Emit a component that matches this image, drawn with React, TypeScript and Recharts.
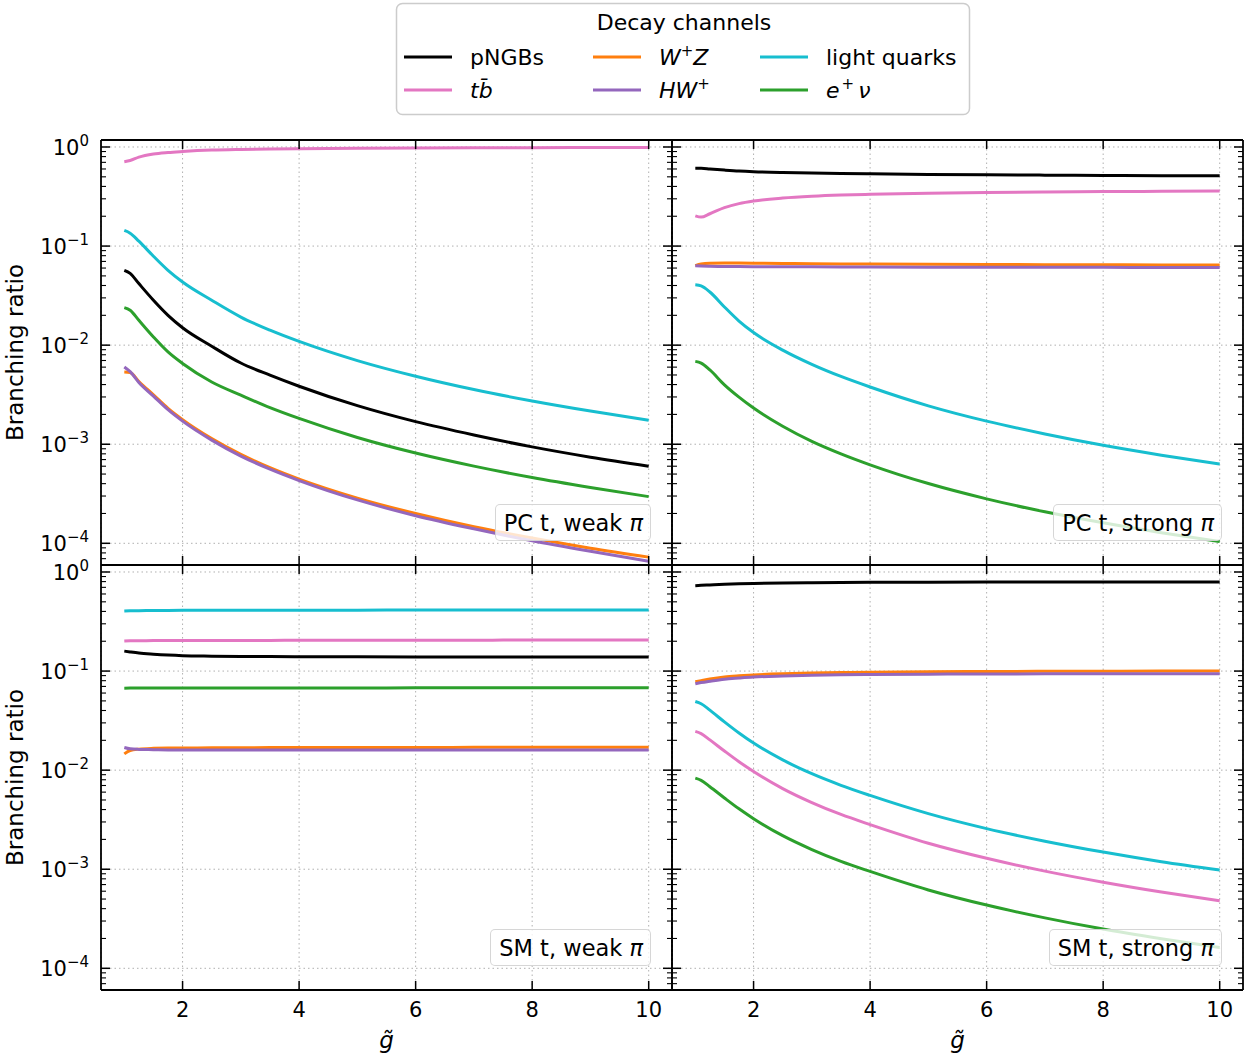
import React from "react"
import { LineChart, Line, XAxis, YAxis, CartesianGrid, ReferenceLine } from "recharts"

// coupling values shared by every panel
const G = [1, 1.1, 1.25, 1.5, 1.75, 2, 2.5, 3, 3.5, 4, 5, 6, 7, 8, 9, 10]

// PC t, weak pi
const pcWeakPngb = [0.0569, 0.053, 0.0418, 0.0284, 0.02, 0.015, 0.00975, 0.0066, 0.00498, 0.00385, 0.00245, 0.00169, 0.00124, 0.00094, 0.00074, 0.0006]
const pcWeakTb = [0.71, 0.73, 0.79, 0.85, 0.88, 0.9, 0.93, 0.945, 0.955, 0.962, 0.972, 0.978, 0.982, 0.985, 0.987, 0.989]
const pcWeakWz = [0.00537, 0.0053, 0.0043, 0.00315, 0.0023, 0.00177, 0.00114, 0.00079, 0.00058, 0.000445, 0.000286, 0.0002, 0.000147, 0.000113, 0.0000893, 0.0000725]
const pcWeakHw = [0.00603, 0.0054, 0.0042, 0.00306, 0.00223, 0.00171, 0.0011, 0.00076, 0.00056, 0.00043, 0.000274, 0.00019, 0.00014, 0.000106, 0.000083, 0.000066]
const pcWeakLq = [0.1439, 0.135, 0.112, 0.079, 0.0569, 0.0434, 0.0284, 0.0192, 0.01416, 0.0109, 0.00698, 0.00485, 0.00356, 0.00273, 0.00216, 0.00175]
const pcWeakEnu = [0.0239, 0.0225, 0.0178, 0.0121, 0.00854, 0.00653, 0.00425, 0.00313, 0.00234, 0.00182, 0.00117, 0.000815, 0.000601, 0.000461, 0.000366, 0.000296]

// PC t, strong pi
const pcStrongPngb = [0.61, 0.61, 0.6, 0.585, 0.572, 0.563, 0.552, 0.545, 0.54, 0.536, 0.529, 0.524, 0.52, 0.517, 0.514, 0.512]
const pcStrongTb = [0.202, 0.196, 0.212, 0.244, 0.268, 0.285, 0.305, 0.318, 0.327, 0.333, 0.342, 0.348, 0.352, 0.355, 0.357, 0.359]
const pcStrongWz = [0.0635, 0.066, 0.0672, 0.0675, 0.0674, 0.0672, 0.0668, 0.0664, 0.0661, 0.0658, 0.0654, 0.0651, 0.0649, 0.0647, 0.0645, 0.0644]
const pcStrongHw = [0.0632, 0.0628, 0.0625, 0.0623, 0.0621, 0.062, 0.0618, 0.0617, 0.0616, 0.0615, 0.0613, 0.0612, 0.0611, 0.061, 0.0609, 0.0608]
const pcStrongLq = [0.0406, 0.0396, 0.0344, 0.0243, 0.0175, 0.0134, 0.00891, 0.0064, 0.00483, 0.00378, 0.00244, 0.00171, 0.00127, 0.000975, 0.000775, 0.00063]
const pcStrongEnu = [0.00686, 0.0066, 0.00562, 0.00398, 0.00299, 0.00232, 0.00152, 0.00107, 0.0008, 0.00062, 0.000401, 0.000281, 0.000208, 0.000161, 0.000128, 0.000104]

// SM t, weak pi
const smWeakPngb = [0.159, 0.156, 0.152, 0.148, 0.145, 0.143, 0.1415, 0.1405, 0.14, 0.1397, 0.1393, 0.139, 0.1388, 0.1386, 0.1384, 0.1383]
const smWeakTb = [0.201, 0.202, 0.202, 0.203, 0.203, 0.203, 0.204, 0.204, 0.204, 0.205, 0.205, 0.205, 0.205, 0.206, 0.206, 0.206]
const smWeakWz = [0.0146, 0.0158, 0.0163, 0.0166, 0.0167, 0.0167, 0.0168, 0.0168, 0.0169, 0.0169, 0.0169, 0.0169, 0.017, 0.017, 0.017, 0.017]
const smWeakHw = [0.0169, 0.0164, 0.0162, 0.0161, 0.016, 0.016, 0.016, 0.016, 0.016, 0.016, 0.016, 0.016, 0.016, 0.016, 0.016, 0.016]
const smWeakLq = [0.404, 0.406, 0.407, 0.408, 0.409, 0.41, 0.41, 0.411, 0.411, 0.412, 0.412, 0.413, 0.413, 0.413, 0.414, 0.414]
const smWeakEnu = [0.0672, 0.0673, 0.0673, 0.0674, 0.0674, 0.0675, 0.0675, 0.0675, 0.0676, 0.0676, 0.0676, 0.0677, 0.0677, 0.0677, 0.0678, 0.0678]

// SM t, strong pi
const smStrongPngb = [0.728, 0.733, 0.74, 0.752, 0.76, 0.766, 0.774, 0.779, 0.783, 0.786, 0.789, 0.791, 0.792, 0.793, 0.793, 0.794]
const smStrongTb = [0.0246, 0.0234, 0.0202, 0.0156, 0.01216, 0.0097, 0.00652, 0.00471, 0.00357, 0.00282, 0.00183, 0.00129, 0.000957, 0.00074, 0.000589, 0.00048]
const smStrongWz = [0.078, 0.08, 0.083, 0.087, 0.0895, 0.0915, 0.094, 0.0955, 0.0965, 0.0975, 0.0985, 0.099, 0.0995, 0.0997, 0.0999, 0.1]
const smStrongHw = [0.0745, 0.0765, 0.079, 0.0828, 0.085, 0.087, 0.0893, 0.091, 0.092, 0.0925, 0.093, 0.0935, 0.0937, 0.0939, 0.094, 0.094]
const smStrongLq = [0.0493, 0.0468, 0.0403, 0.0307, 0.0237, 0.01875, 0.01268, 0.0092, 0.00703, 0.00556, 0.00364, 0.00257, 0.00192, 0.00149, 0.00119, 0.00098]
const smStrongEnu = [0.0083, 0.00789, 0.00681, 0.00524, 0.00407, 0.00324, 0.00218, 0.00158, 0.0012, 0.00095, 0.000618, 0.000435, 0.000323, 0.000249, 0.000199, 0.000162]

const SERIES = [
  { key: "pngb", color: "#000000" },
  { key: "tb", color: "#e377c2" },
  { key: "wz", color: "#ff7f0e" },
  { key: "hw", color: "#9467bd" },
  { key: "lq", color: "#17becf" },
  { key: "enu", color: "#2ca02c" },
]

const FONT = "DejaVu Sans"
const X_DOMAIN = [0.6, 10.4]
const X_TICKS = [2, 4, 6, 8, 10]
const Y_MIN = Math.pow(10, -4.219)
const Y_MAX = Math.pow(10, 0.0706)
const Y_MAJOR = [1e-4, 1e-3, 1e-2, 1e-1, 1]
const Y_TICKS: number[] = []
for (let e = -5; e <= 0; e++) {
  for (let m = 1; m <= 9; m++) {
    const v = m * Math.pow(10, e)
    if (v >= Y_MIN && v <= Y_MAX) Y_TICKS.push(v)
  }
}

const PLOT_W = 571
const PLOT_H = 425
const LINE_W = 3

function makeRows(cols: number[][]) {
  return G.map((g, i) => {
    const row: Record<string, number> = { g }
    SERIES.forEach((s, j) => {
      row[s.key] = cols[j][i]
    })
    return row
  })
}

const isMajor = (v: number) => Math.abs(Math.log10(v) - Math.round(Math.log10(v))) < 1e-6

function LeftTick(props: any) {
  const { x, y, payload, labels } = props
  const v = payload.value
  const major = isMajor(v)
  const exp = Math.round(Math.log10(v))
  return (
    <g>
      <line x1={x} x2={x + (major ? 9 : 5)} y1={y} y2={y} stroke="#000" strokeWidth={major ? 1.5 : 1.1} />
      {major && labels && (
        <text x={x - 12} y={y + 8} textAnchor="end" fontSize={21} fontFamily={FONT} fill="#000">
          10
          <tspan fontSize={15} dy={-9}>{exp === 0 ? "0" : "\u2212" + -exp}</tspan>
        </text>
      )}
    </g>
  )
}

function RightTick(props: any) {
  const { x, y, payload } = props
  const major = isMajor(payload.value)
  return <line x1={x} x2={x - (major ? 9 : 5)} y1={y} y2={y} stroke="#000" strokeWidth={major ? 1.5 : 1.1} />
}

function BottomTick(props: any) {
  const { x, y, payload, labels } = props
  return (
    <g>
      <line x1={x} x2={x} y1={y} y2={y - 9} stroke="#000" strokeWidth={1.5} />
      {labels && (
        <text x={x} y={y + 27} textAnchor="middle" fontSize={21} fontFamily={FONT} fill="#000">
          {payload.value}
        </text>
      )}
    </g>
  )
}

function TopTick(props: any) {
  const { x, y } = props
  return <line x1={x} x2={x} y1={y} y2={y + 9} stroke="#000" strokeWidth={1.5} />
}

function Panel({
  rows,
  left,
  top,
  firstCol,
  bottomRow,
  note,
}: {
  rows: Record<string, number>[]
  left: number
  top: number
  firstCol: boolean
  bottomRow: boolean
  note: string
}) {
  const yLeftW = firstCol ? 60 : 10
  const marginLeft = firstCol ? 41 : 0
  const yRightW = firstCol ? 6 : 4
  const xBottomH = bottomRow ? 70 : 10
  const chartW = marginLeft + yLeftW + PLOT_W + yRightW
  const chartH = 10 + PLOT_H + xBottomH
  const plotLeft = marginLeft + yLeftW
  const plotTop = 10
  const plotBottom = plotTop + PLOT_H
  const axisLine = { stroke: "#000", strokeWidth: 1.8 }

  return (
    <div style={{ position: "absolute", left, top, width: chartW, height: chartH }}>
      <LineChart width={chartW} height={chartH} data={rows} margin={{ top: 0, right: 0, bottom: 0, left: marginLeft }}>
        <CartesianGrid horizontal={false} stroke="#b0b0b0" strokeDasharray="1.5 3" strokeWidth={1} />
        {Y_MAJOR.map((v) => (
          <ReferenceLine key={v} y={v} stroke="#b0b0b0" strokeDasharray="1.5 3" strokeWidth={1} />
        ))}
        <XAxis
          dataKey="g"
          type="number"
          domain={X_DOMAIN}
          allowDataOverflow
          ticks={X_TICKS}
          interval={0}
          height={xBottomH}
          tickSize={0}
          tickMargin={0}
          tickLine={false}
          axisLine={axisLine}
          tick={(p: any) => <BottomTick {...p} labels={bottomRow} />}
          label={
            bottomRow
              ? () => (
                  <text
                    x={plotLeft + PLOT_W / 2}
                    y={plotBottom + 58}
                    textAnchor="middle"
                    fontSize={23}
                    fontFamily={FONT}
                    fontStyle="italic"
                    fill="#000"
                  >
                    {"g\u0303"}
                  </text>
                )
              : undefined
          }
        />
        <XAxis
          xAxisId="top"
          orientation="top"
          dataKey="g"
          type="number"
          domain={X_DOMAIN}
          allowDataOverflow
          ticks={X_TICKS}
          interval={0}
          height={10}
          tickSize={0}
          tickMargin={0}
          tickLine={false}
          axisLine={axisLine}
          tick={(p: any) => <TopTick {...p} />}
        />
        <YAxis
          type="number"
          scale="log"
          domain={[Y_MIN, Y_MAX]}
          allowDataOverflow
          ticks={Y_TICKS}
          interval={0}
          width={yLeftW}
          tickSize={0}
          tickMargin={0}
          tickLine={false}
          axisLine={axisLine}
          tick={(p: any) => <LeftTick {...p} labels={firstCol} />}
          label={
            firstCol
              ? () => (
                  <text
                    x={15}
                    y={plotTop + PLOT_H / 2}
                    transform={`rotate(-90, 15, ${plotTop + PLOT_H / 2})`}
                    textAnchor="middle"
                    dominantBaseline="central"
                    fontSize={23}
                    fontFamily={FONT}
                    fill="#000"
                  >
                    Branching ratio
                  </text>
                )
              : undefined
          }
        />
        <YAxis
          yAxisId="right"
          orientation="right"
          type="number"
          scale="log"
          domain={[Y_MIN, Y_MAX]}
          allowDataOverflow
          ticks={Y_TICKS}
          interval={0}
          width={yRightW}
          tickSize={0}
          tickMargin={0}
          tickLine={false}
          axisLine={axisLine}
          tick={(p: any) => <RightTick {...p} />}
        />
        {SERIES.map((s) => (
          <Line
            key={s.key}
            type="monotone"
            dataKey={s.key}
            stroke={s.color}
            strokeWidth={LINE_W}
            dot={false}
            activeDot={false}
            isAnimationActive={false}
          />
        ))}
      </LineChart>
      <div
        style={{
          position: "absolute",
          right: chartW - (plotLeft + PLOT_W) + 21,
          bottom: chartH - plotBottom + 24,
          padding: "4.5px 7px 4.5px 8px",
          fontSize: 22.5,
          lineHeight: "26px",
          fontFamily: FONT,
          whiteSpace: "nowrap",
          background: "rgba(255,255,255,0.8)",
          border: "1.5px solid rgba(204,204,204,0.8)",
          borderRadius: 5,
          color: "#000",
        }}
      >
        {note}
        <span style={{ fontStyle: "italic" }}>π</span>
      </div>
    </div>
  )
}

const LEGEND_COL_X = [404, 593, 760]
const LEGEND_ROW_Y = [57, 90]

function legendLabel(key: string) {
  const sup = { fontSize: 15 }
  switch (key) {
    case "pngb":
      return "pNGBs"
    case "tb":
      return <tspan fontStyle="italic">{"tb\u0304"}</tspan>
    case "wz":
      return (
        <>
          <tspan fontStyle="italic">W</tspan>
          <tspan {...sup} dy={-9}>+</tspan>
          <tspan fontStyle="italic" dy={9}>Z</tspan>
        </>
      )
    case "hw":
      return (
        <>
          <tspan fontStyle="italic">HW</tspan>
          <tspan {...sup} dy={-9}>+</tspan>
        </>
      )
    case "lq":
      return "light quarks"
    default:
      return (
        <>
          <tspan fontStyle="italic">e</tspan>
          <tspan {...sup} dy={-9} dx={2}>+</tspan>
          <tspan fontStyle="italic" dy={9} dx={4}>ν</tspan>
        </>
      )
  }
}

function DecayLegend() {
  return (
    <svg width={1247} height={120} style={{ position: "absolute", left: 0, top: 0 }}>
      <rect x={396.5} y={3.5} width={573} height={111} rx={6} fill="#fff" stroke="#cccccc" strokeWidth={1.5} />
      <text x={684} y={30} textAnchor="middle" fontSize={22} fontFamily={FONT} fill="#000">
        Decay channels
      </text>
      {SERIES.map((s, i) => {
        const col = Math.floor(i / 2)
        const row = i % 2
        const x = LEGEND_COL_X[col]
        const y = LEGEND_ROW_Y[row]
        return (
          <g key={s.key}>
            <line x1={x} x2={x + 48} y1={y} y2={y} stroke={s.color} strokeWidth={LINE_W} />
            <text x={x + 66} y={y + 8} fontSize={22} fontFamily={FONT} fill="#000">
              {legendLabel(s.key)}
            </text>
          </g>
        )
      })}
    </svg>
  )
}

const rowsPcWeak = makeRows([pcWeakPngb, pcWeakTb, pcWeakWz, pcWeakHw, pcWeakLq, pcWeakEnu])
const rowsPcStrong = makeRows([pcStrongPngb, pcStrongTb, pcStrongWz, pcStrongHw, pcStrongLq, pcStrongEnu])
const rowsSmWeak = makeRows([smWeakPngb, smWeakTb, smWeakWz, smWeakHw, smWeakLq, smWeakEnu])
const rowsSmStrong = makeRows([smStrongPngb, smStrongTb, smStrongWz, smStrongHw, smStrongLq, smStrongEnu])

export default function App() {
  return (
    <div
      style={{
        position: "absolute",
        left: 0,
        top: 0,
        width: 1247,
        height: 1061,
        background: "#fff",
        fontFamily: FONT,
        overflow: "hidden",
      }}
    >
      <Panel rows={rowsPcWeak} left={0} top={130} firstCol bottomRow={false} note="PC t, weak " />
      <Panel rows={rowsPcStrong} left={662} top={130} firstCol={false} bottomRow={false} note="PC t, strong " />
      <Panel rows={rowsSmWeak} left={0} top={555} firstCol bottomRow note="SM t, weak " />
      <Panel rows={rowsSmStrong} left={662} top={555} firstCol={false} bottomRow note="SM t, strong " />
      <DecayLegend />
    </div>
  )
}
